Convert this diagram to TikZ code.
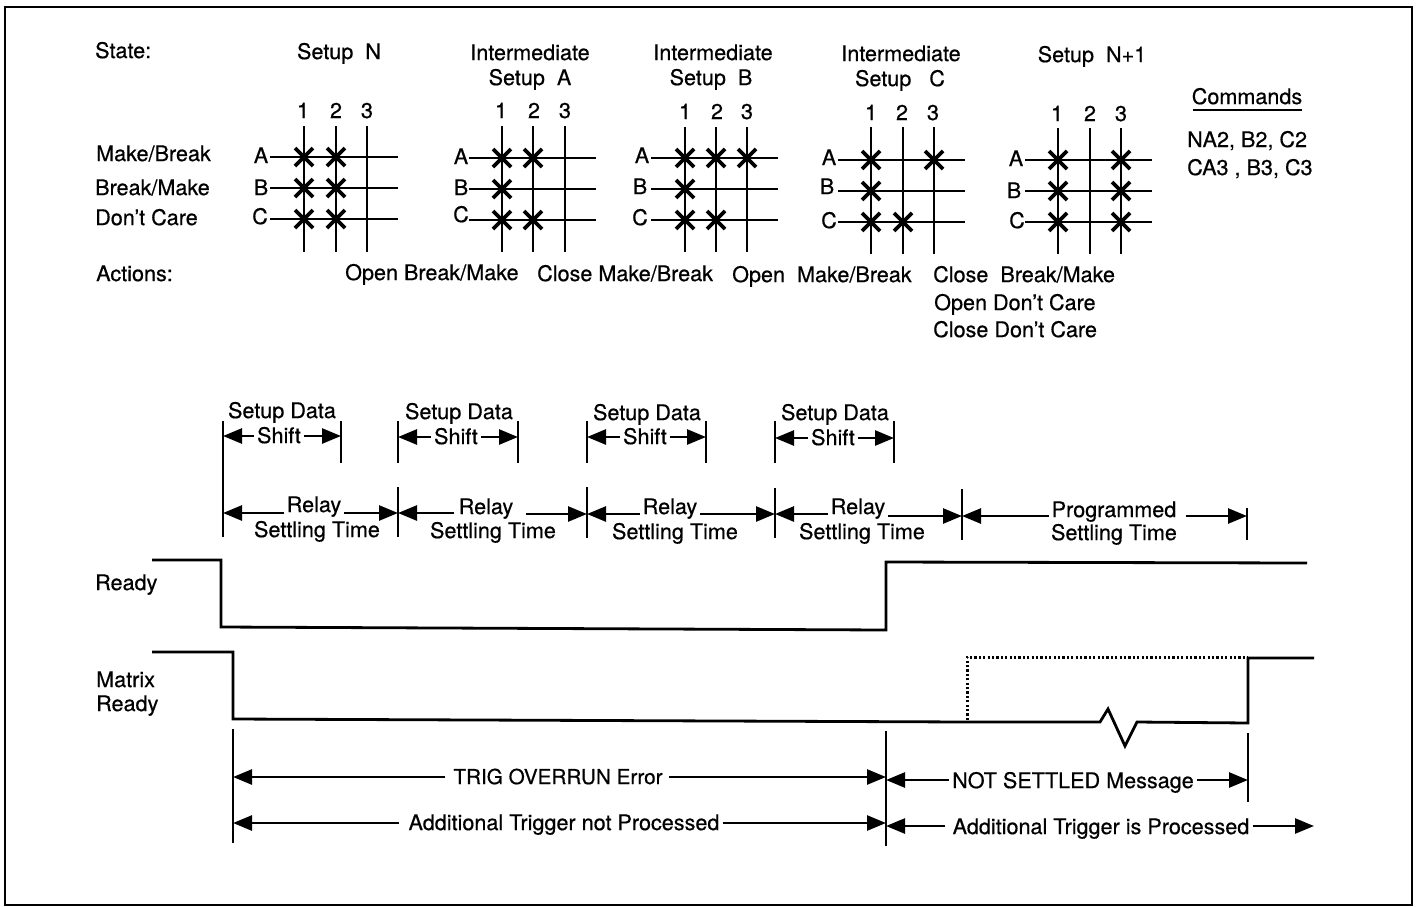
\documentclass[tikz,border=0pt]{standalone}
\usepackage{fontspec}
\setmainfont[RawFeature={embolden=0.5}]{TeX Gyre Heros}
\usetikzlibrary{arrows.meta}
\tikzset{
  lbl/.style={inner xsep=3pt,inner ysep=0pt,font=\fontsize{21.6}{24}\selectfont,text height=14.2pt,text depth=0pt},
  lft/.style={lbl,anchor=west,inner xsep=0pt},
  gridline/.style={line width=2.8pt},
  xmark/.style={line width=3.8pt},
  tick/.style={line width=2.8pt},
  dim/.style={line width=2.6pt,-{Triangle[length=19pt,width=15pt]}},
  signal/.style={line width=2.8pt,line join=miter},
  frameline/.style={line width=2.2pt}
}
\newcommand{\xat}[2]{\draw[xmark] (#1-9,#2-9) -- (#1+9,#2+9) (#1-9,#2+9) -- (#1+9,#2-9);}
\begin{document}
\begin{tikzpicture}[x=1pt,y=-1pt]
\useasboundingbox (0,0) rectangle (1416,906);
\fill[white] (0,0) rectangle (1416,906);
\draw[frameline] (5,7) rectangle (1412,905);
% headings
\node[lft] (state) at (95,51) {State:};
\node[lbl] (s1) at (339,52) {Setup\ \ N};
\node[lbl] (i2) at (530,53) {Intermediate};
\node[lbl] (s2) at (530,78) {Setup\ \ A};
\node[lbl] (i3) at (713,53) {Intermediate};
\node[lbl] (s3) at (711,78) {Setup\ \ B};
\node[lbl] (i4) at (901,54) {Intermediate};
\node[lbl] (s4) at (900,79) {Setup\ \ \ C};
\node[lbl] (s5) at (1092,55) {Setup\ \ N+1};
\node[lbl] (cmd) at (1247,97) {Commands};
\coordinate (cmdl) at (1193,110); \coordinate (cmdr) at (1302,110);
\draw[line width=2pt] (cmdl) -- (cmdr);
\node[lft] (c1) at (1187,140) {NA2, B2, C2};
\node[lft] (c2) at (1187,168) {CA3 , B3, C3};
\node[lft] (mb) at (96,154) {Make/Break};
\node[lft] (bm) at (95,188) {Break/Make};
\node[lft] (dc) at (95,218) {Don't Care};
\node[lft] (act) at (96,274) {Actions:};
\node[lft] (a1) at (345,273) {Open Break/Make};
\node[lft] (a2) at (537,274) {Close Make/Break};
\node[lft] (a3) at (732,275) {Open\ \ Make/Break};
\node[lft] (a4) at (933,275) {Close\ \ Break/Make};
\node[lft] (a5) at (934,303) {Open Don't Care};
\node[lft] (a6) at (933,330) {Close Don't Care};
% grids
\foreach \xa/\xb/\xc/\yt/\yd/\ya/\yy/\yc/\xl/\xr in {
  304/336/367/126/252/157/188/219/270/398,
  502/533/565/126/252/158/189/220/469/596,
  685/716/747/127/252/158/189/220/651/778,
  871/903/934/127/254/160/191/222/838/965,
  1058/1090/1121/128/254/160/191/222/1025/1152}{
  \draw[gridline] (\xa,\yt) -- (\xa,\yd) (\xb,\yt) -- (\xb,\yd) (\xc,\yt) -- (\xc,\yd);
  \draw[gridline] (\xl,\ya) -- (\xr,\ya) (\xl,\yy) -- (\xr,\yy) (\xl,\yc) -- (\xr,\yc);
}
\foreach \p in {304/157,336/157,304/188,336/188,304/219,336/219,
  502/158,533/158,502/189,502/220,533/220,
  685/158,716/158,747/158,685/189,685/220,716/220,
  871/160,934/160,871/191,871/222,903/222,
  1058/160,1121/160,1058/191,1121/191,1058/222,1121/222}{
  \foreach \a/\b in \p {\xat{\a}{\b}}
}
% grid labels
\foreach \n/\t/\x/\y in {
 ga1/1/303/111,ga2/2/336/111,ga3/3/367/111,gaA/A/261/156,gaB/B/261/188,gaC/C/260/217,
 gb1/1/501/111,gb2/2/534/111,gb3/3/565/111,gbA/A/461/157,gbB/B/461/188,gbC/C/461/215,
 gc1/1/685/112,gc2/2/717/112,gc3/3/747/112,gcA/A/642/156,gcB/B/640/187,gcC/C/640/218,
 gd1/1/871/113,gd2/2/902/113,gd3/3/933/113,gdA/A/829/158,gdB/B/827/187,gdC/C/829/221,
 ge1/1/1057/114,ge2/2/1090/114,ge3/3/1121/114,geA/A/1016/159,geB/B/1014/191,geC/C/1017/221}{
 \node[lbl,inner xsep=0pt] (\n) at (\x,\y) {\t};
}
% Setup Data / Shift
\foreach \n/\cx/\cy/\sx/\sy/\l/\r/\ay in {1/282/411/279/436/223/341/436,2/459/412/456/437/398/518/437,3/647/413/645/437/587/706/437,4/835/413/833/438/775/894/438}{
  \node[lbl] (sd\n) at (\cx,\cy) {Setup\ Data};
  \node[lbl] (sh\n) at (\sx,\sy) {Shift};
  \coordinate (sl\n) at (\l,\ay);
  \coordinate (sr\n) at (\r,\ay);
  \draw[tick] (\l,421) -- (\l,463) (\r,421) -- (\r,463);
  \draw[dim] (sh\n.west |- sl\n) -- (sl\n);
  \draw[dim] (sh\n.east |- sr\n) -- (sr\n);
}
% Relay ticks
\coordinate (r0) at (223,513); \coordinate (r1) at (398,513);
\coordinate (r2) at (587,514); \coordinate (r3) at (775,514);
\coordinate (r4) at (962,516); \coordinate (r5) at (1247,516);
\draw[tick] (223,463) -- (223,537);
\draw[tick] (398,487) -- (398,537) (587,487) -- (587,538) (775,488) -- (775,538) (962,489) -- (962,540) (1247,508) -- (1247,540);
\node[lbl] (ry1) at (314,505) {Relay};
\node[lbl] (st1) at (317,530) {Settling\ Time};
\node[lbl] (ry2) at (486,507) {Relay};
\node[lbl] (st2) at (493,531) {Settling\ Time};
\node[lbl] (ry3) at (670,507) {Relay};
\node[lbl] (st3) at (675,532) {Settling\ Time};
\node[lbl] (ry4) at (858,507) {Relay};
\node[lbl] (st4) at (862,532) {Settling\ Time};
\node[lbl] (pg) at (1114,510) {Programmed};
\node[lbl] (st5) at (1114,533) {Settling\ Time};
\draw[dim] (ry1.west |- r0) -- (r0);
\draw[dim] (ry1.east |- r1) -- (r1);
\draw[dim] ([xshift=-2pt]ry2.west |- r1) -- (r1);
\draw[dim] ([xshift=10pt]ry2.east |- r2) -- (r2);
\draw[dim] (ry3.west |- r2) -- (r2);
\draw[dim] (ry3.east |- r3) -- (r3);
\draw[dim] (ry4.west |- r3) -- (r3);
\draw[dim] (ry4.east |- r4) -- (r4);
\draw[dim] (pg.west |- r4) -- (r4);
\draw[dim] ([xshift=6pt]pg.east |- r5) -- (r5);
% signals
\node[lft] (ready) at (95,583) {Ready};
\node[lft] (mr1) at (96,680) {Matrix};
\node[lft] (mr2) at (96,704) {Ready};
\draw[signal] (152,560) -- (221,560) -- (221,627) -- (886,630) -- (886,562) -- (1307,563);
\draw[signal] (152,652) -- (233,652) -- (233,719) -- (968,722) -- (1100,722) -- (1108,709) -- (1125,746) -- (1137,722) -- (1248,723) -- (1248,658) -- (1314,658);
\draw[line width=3pt,dash pattern=on 2.2pt off 2.2pt] (967,720) -- (967,657) -- (1248,657);
% bottom dimensions
\draw[tick] (233,729) -- (233,843) (886,731) -- (886,846) (1248,733) -- (1248,802);
\coordinate (b0) at (233,777); \coordinate (b1) at (886,777);
\coordinate (b2) at (233,823); \coordinate (b3) at (886,823);
\coordinate (b4) at (886,780); \coordinate (b5) at (1248,780);
\coordinate (b6) at (886,826); \coordinate (b7) at (1314,826);
\node[lbl,font=\fontsize{20.7}{24}\selectfont] (t1) at (558,777) {TRIG OVERRUN Error};
\node[lbl] (t2) at (564,823) {Additional Trigger not Processed};
\node[lbl] (t3) at (1073,781) {NOT SETTLED Message};
\node[lbl] (t4) at (1101,827) {Additional Trigger is Processed};
\draw[dim] ([xshift=-5pt]t1.west |- b0) -- (b0);
\draw[dim] ([xshift=3pt]t1.east |- b1) -- (b1);
\draw[dim] ([xshift=-6pt]t2.west |- b2) -- (b2);
\draw[dim] (t2.east |- b3) -- (b3);
\draw[dim] (t3.west |- b4) -- (b4);
\draw[dim] (t3.east |- b5) -- (b5);
\draw[dim] ([xshift=-4pt]t4.west |- b6) -- (b6);
\draw[dim] (t4.east |- b7) -- (b7);
\end{tikzpicture}
\end{document}
